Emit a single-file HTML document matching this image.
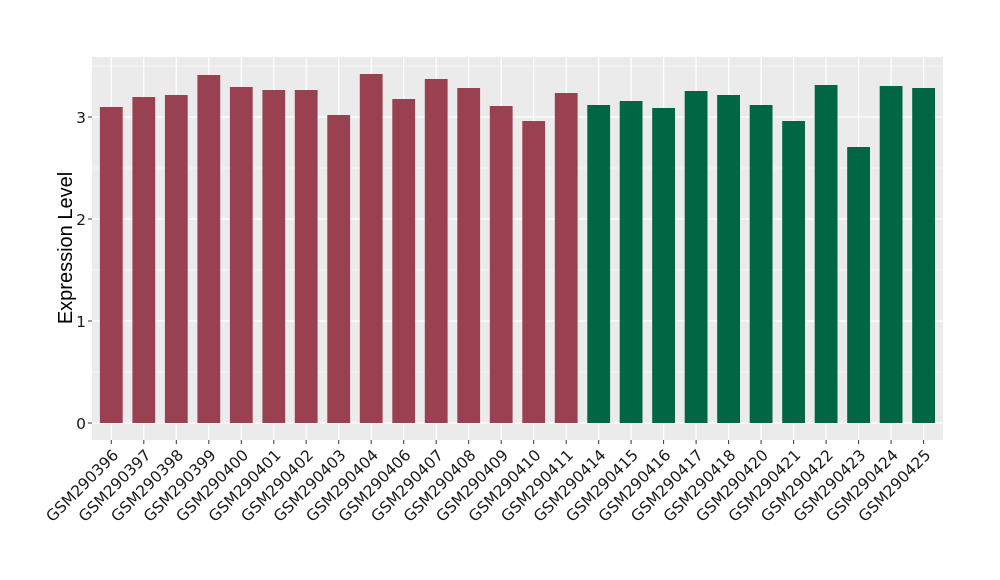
<!DOCTYPE html>
<html><head><style>body{margin:0;background:#fff}svg{display:block}</style></head><body>
<svg width="1000" height="580" xmlns="http://www.w3.org/2000/svg" font-family="DejaVu Sans, sans-serif">
<rect x="92" y="57" width="851" height="383" fill="#ebebeb"/>
<g stroke="#fff" stroke-width="0.6">
<line x1="92" x2="943" y1="372" y2="372"/><line x1="92" x2="943" y1="270" y2="270"/><line x1="92" x2="943" y1="168" y2="168"/><line x1="92" x2="943" y1="66" y2="66"/>
</g>
<g stroke="#fff" stroke-width="1.3">
<line x1="92" x2="943" y1="423" y2="423"/><line x1="92" x2="943" y1="321" y2="321"/><line x1="92" x2="943" y1="219" y2="219"/><line x1="92" x2="943" y1="117" y2="117"/>
<line x1="111.3" x2="111.3" y1="57" y2="440"/><line x1="143.8" x2="143.8" y1="57" y2="440"/><line x1="176.3" x2="176.3" y1="57" y2="440"/><line x1="208.8" x2="208.8" y1="57" y2="440"/><line x1="241.3" x2="241.3" y1="57" y2="440"/><line x1="273.8" x2="273.8" y1="57" y2="440"/><line x1="306.2" x2="306.2" y1="57" y2="440"/><line x1="338.7" x2="338.7" y1="57" y2="440"/><line x1="371.2" x2="371.2" y1="57" y2="440"/><line x1="403.7" x2="403.7" y1="57" y2="440"/><line x1="436.2" x2="436.2" y1="57" y2="440"/><line x1="468.7" x2="468.7" y1="57" y2="440"/><line x1="501.2" x2="501.2" y1="57" y2="440"/><line x1="533.7" x2="533.7" y1="57" y2="440"/><line x1="566.2" x2="566.2" y1="57" y2="440"/><line x1="598.7" x2="598.7" y1="57" y2="440"/><line x1="631.1" x2="631.1" y1="57" y2="440"/><line x1="663.6" x2="663.6" y1="57" y2="440"/><line x1="696.1" x2="696.1" y1="57" y2="440"/><line x1="728.6" x2="728.6" y1="57" y2="440"/><line x1="761.1" x2="761.1" y1="57" y2="440"/><line x1="793.6" x2="793.6" y1="57" y2="440"/><line x1="826.1" x2="826.1" y1="57" y2="440"/><line x1="858.6" x2="858.6" y1="57" y2="440"/><line x1="891.1" x2="891.1" y1="57" y2="440"/><line x1="923.6" x2="923.6" y1="57" y2="440"/>
</g>
<g fill="#994150">
<rect x="99.9" y="107" width="22.8" height="316"/><rect x="132.4" y="97" width="22.8" height="326"/><rect x="164.9" y="95" width="22.8" height="328"/><rect x="197.4" y="75" width="22.8" height="348"/><rect x="229.9" y="87" width="22.8" height="336"/><rect x="262.4" y="90" width="22.8" height="333"/><rect x="294.8" y="90" width="22.8" height="333"/><rect x="327.3" y="115" width="22.8" height="308"/><rect x="359.8" y="74" width="22.8" height="349"/><rect x="392.3" y="99" width="22.8" height="324"/><rect x="424.8" y="79" width="22.8" height="344"/><rect x="457.3" y="88" width="22.8" height="335"/><rect x="489.8" y="106" width="22.8" height="317"/><rect x="522.3" y="121" width="22.8" height="302"/><rect x="554.8" y="93" width="22.8" height="330"/>
</g>
<g fill="#006643">
<rect x="587.3" y="105" width="22.8" height="318"/><rect x="619.7" y="101" width="22.8" height="322"/><rect x="652.2" y="108" width="22.8" height="315"/><rect x="684.7" y="91" width="22.8" height="332"/><rect x="717.2" y="95" width="22.8" height="328"/><rect x="749.7" y="105" width="22.8" height="318"/><rect x="782.2" y="121" width="22.8" height="302"/><rect x="814.7" y="85" width="22.8" height="338"/><rect x="847.2" y="147" width="22.8" height="276"/><rect x="879.7" y="86" width="22.8" height="337"/><rect x="912.2" y="88" width="22.8" height="335"/>
</g>
<g stroke="#333" stroke-width="1">
<line x1="111.3" x2="111.3" y1="440" y2="444"/><line x1="143.8" x2="143.8" y1="440" y2="444"/><line x1="176.3" x2="176.3" y1="440" y2="444"/><line x1="208.8" x2="208.8" y1="440" y2="444"/><line x1="241.3" x2="241.3" y1="440" y2="444"/><line x1="273.8" x2="273.8" y1="440" y2="444"/><line x1="306.2" x2="306.2" y1="440" y2="444"/><line x1="338.7" x2="338.7" y1="440" y2="444"/><line x1="371.2" x2="371.2" y1="440" y2="444"/><line x1="403.7" x2="403.7" y1="440" y2="444"/><line x1="436.2" x2="436.2" y1="440" y2="444"/><line x1="468.7" x2="468.7" y1="440" y2="444"/><line x1="501.2" x2="501.2" y1="440" y2="444"/><line x1="533.7" x2="533.7" y1="440" y2="444"/><line x1="566.2" x2="566.2" y1="440" y2="444"/><line x1="598.7" x2="598.7" y1="440" y2="444"/><line x1="631.1" x2="631.1" y1="440" y2="444"/><line x1="663.6" x2="663.6" y1="440" y2="444"/><line x1="696.1" x2="696.1" y1="440" y2="444"/><line x1="728.6" x2="728.6" y1="440" y2="444"/><line x1="761.1" x2="761.1" y1="440" y2="444"/><line x1="793.6" x2="793.6" y1="440" y2="444"/><line x1="826.1" x2="826.1" y1="440" y2="444"/><line x1="858.6" x2="858.6" y1="440" y2="444"/><line x1="891.1" x2="891.1" y1="440" y2="444"/><line x1="923.6" x2="923.6" y1="440" y2="444"/>
<line x1="88" x2="92" y1="423" y2="423"/><line x1="88" x2="92" y1="321" y2="321"/><line x1="88" x2="92" y1="219" y2="219"/><line x1="88" x2="92" y1="117" y2="117"/>
</g>
<g font-size="15.5" fill="#1a1a1a" text-anchor="end">
<text transform="translate(119.3,456) rotate(-45)">GSM290396</text><text transform="translate(151.8,456) rotate(-45)">GSM290397</text><text transform="translate(184.3,456) rotate(-45)">GSM290398</text><text transform="translate(216.8,456) rotate(-45)">GSM290399</text><text transform="translate(249.3,456) rotate(-45)">GSM290400</text><text transform="translate(281.8,456) rotate(-45)">GSM290401</text><text transform="translate(314.2,456) rotate(-45)">GSM290402</text><text transform="translate(346.7,456) rotate(-45)">GSM290403</text><text transform="translate(379.2,456) rotate(-45)">GSM290404</text><text transform="translate(411.7,456) rotate(-45)">GSM290406</text><text transform="translate(444.2,456) rotate(-45)">GSM290407</text><text transform="translate(476.7,456) rotate(-45)">GSM290408</text><text transform="translate(509.2,456) rotate(-45)">GSM290409</text><text transform="translate(541.7,456) rotate(-45)">GSM290410</text><text transform="translate(574.2,456) rotate(-45)">GSM290411</text><text transform="translate(606.7,456) rotate(-45)">GSM290414</text><text transform="translate(639.1,456) rotate(-45)">GSM290415</text><text transform="translate(671.6,456) rotate(-45)">GSM290416</text><text transform="translate(704.1,456) rotate(-45)">GSM290417</text><text transform="translate(736.6,456) rotate(-45)">GSM290418</text><text transform="translate(769.1,456) rotate(-45)">GSM290420</text><text transform="translate(801.6,456) rotate(-45)">GSM290421</text><text transform="translate(834.1,456) rotate(-45)">GSM290422</text><text transform="translate(866.6,456) rotate(-45)">GSM290423</text><text transform="translate(899.1,456) rotate(-45)">GSM290424</text><text transform="translate(931.6,456) rotate(-45)">GSM290425</text>
</g>
<g font-size="15.5" fill="#1a1a1a" text-anchor="end">
<text x="86" y="429">0</text><text x="86" y="327">1</text><text x="86" y="225">2</text><text x="86" y="123">3</text>
</g>
<text transform="translate(72,248) rotate(-90)" font-family="Liberation Sans, sans-serif" font-size="20" text-anchor="middle" fill="#000">Expression Level</text>
</svg>
</body></html>
